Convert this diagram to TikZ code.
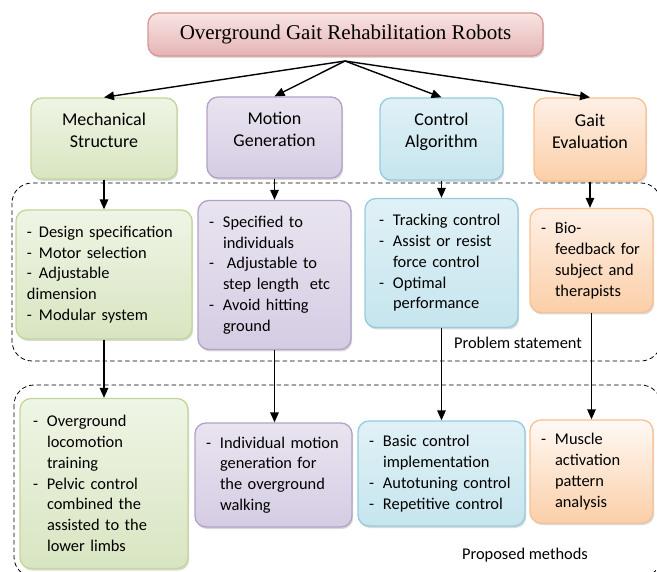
\documentclass[tikz,border=0pt]{standalone}
\usepackage{fontspec}
\setmainfont{Carlito}
\newfontfamily\titlefont{Liberation Serif}
\usetikzlibrary{arrows.meta,shadows,calc}

% box colours: top shade, bottom shade, border
\definecolor{ttlT}{HTML}{F9E4E4}
\definecolor{ttlB}{HTML}{E5B4B4}
\definecolor{ttlD}{HTML}{D99694}
\definecolor{grnT}{HTML}{EFF5E5}
\definecolor{grnB}{HTML}{D8E5C1}
\definecolor{grnD}{HTML}{C3D69B}
\definecolor{purT}{HTML}{E9E4F0}
\definecolor{purB}{HTML}{D5CCE3}
\definecolor{purD}{HTML}{B3A2C7}
\definecolor{bluT}{HTML}{E0F1F6}
\definecolor{bluB}{HTML}{C6E5EE}
\definecolor{bluD}{HTML}{93CDDD}
\definecolor{orgT}{HTML}{FEF0E6}
\definecolor{orgB}{HTML}{FBCFA8}
\definecolor{orgD}{HTML}{FAC090}

% list helpers: a dash in a fixed-width slot, and the matching indent
\newcommand\dsh[1][14pt]{\makebox[#1][l]{-}}
\newcommand\ind{\hspace*{14pt}}
% extra depth under a heading so that it sits above the middle of its box
\newcommand\lift{\rule[-17pt]{0pt}{0pt}}

\begin{document}
\begin{tikzpicture}[x=1pt,y=-1pt,
  box/.style={rounded corners=11pt, line width=1.3pt,
    drop shadow={shadow xshift=1.2pt,shadow yshift=-2pt,opacity=0.3}},
  ttl/.style={box, draw=ttlD, top color=ttlT, bottom color=ttlB},
  grn/.style={box, draw=grnD, top color=grnT, bottom color=grnB},
  pur/.style={box, draw=purD, top color=purT, bottom color=purB},
  blu/.style={box, draw=bluD, top color=bluT, bottom color=bluB},
  org/.style={box, draw=orgD, top color=orgT, bottom color=orgB},
  head/.style={font=\fontsize{18}{22}\selectfont, align=center},
  body/.style={font=\fontsize{16.4}{20.8}\selectfont, align=left, inner xsep=11pt},
  lbl/.style={font=\fontsize{16.4}{20.8}\selectfont},
  arr/.style={line width=1.4pt, -{Triangle[width=8.5pt,length=10pt]}},
  region/.style={line width=0.8pt, dash pattern=on 4.5pt off 3pt, rounded corners=20pt}
]
\useasboundingbox (0,0) rectangle (657,572);

% problem statement and proposed methods areas
\draw[region] (12,183) rectangle (661,361);
\draw[region] (14,385) rectangle (661,577);

% title
\node[ttl, minimum width=395pt, minimum height=43pt,
      font=\titlefont\fontsize{21}{24}\selectfont] (title) at (345.5,34.5)
  {Overground Gait Rehabilitation Robots};

% research areas
\node[grn, head, minimum width=146pt, minimum height=81pt] (mech) at (104,138.5)
  {Mechanical\\Structure\lift};
\node[pur, head, minimum width=135pt, minimum height=81pt] (moti) at (274.5,137.5)
  {Motion\\Generation\lift};
\node[blu, head, minimum width=123pt, minimum height=82pt] (ctrl) at (441.5,139)
  {Control\\Algorithm\lift};
\node[org, head, minimum width=112pt, minimum height=83pt] (gait) at (590,139.5)
  {Gait\\Evaluation\lift};

% problem statements
\node[grn, body, text width=154pt, minimum height=129pt] (mech2) at (104,274.5)
  {\dsh[12pt]Design specification\\
   \dsh[12pt]Motor selection\\
   \dsh[12pt]Adjustable\\
   dimension\\
   \dsh[12pt]Modular system};
\node[pur, body, text width=131pt, minimum height=149pt] (moti2) at (274.5,275)
  {\dsh Specified to\\
   \ind individuals\\
   \dsh\hspace{4pt}Adjustable to\\
   \ind step length\ \ etc\\
   \dsh Avoid hitting\\
   \ind ground};
\node[blu, body, text width=125pt, inner xsep=14pt, minimum height=129pt] (ctrl2) at (441.5,263)
  {\dsh Tracking control\\
   \dsh Assist or resist\\
   \ind force control\\
   \dsh Optimal\\
   \ind performance};
\node[org, body, text width=101pt, minimum height=104pt] (gait2) at (591.5,260.5)
  {\dsh Bio-\\
   \ind feedback for\\
   \ind subject and\\
   \ind therapists};

% proposed methods
\node[grn, body, text width=142pt, inner xsep=13pt, minimum height=170pt] (mech3) at (104,483.5)
  {\dsh Overground\\
   \ind locomotion\\
   \ind training\\
   \dsh Pelvic control\\
   \ind combined the\\
   \ind assisted to the\\
   \ind lower limbs};
\node[pur, body, text width=135pt, minimum height=104pt] (moti3) at (273.5,475)
  {\dsh Individual motion\\
   \ind generation for\\
   \ind the overground\\
   \ind walking};
\node[blu, body, text width=145pt, minimum height=105pt] (ctrl3) at (441.5,473.5)
  {\dsh Basic control\\
   \ind implementation\\
   \dsh Autotuning control\\
   \dsh Repetitive control};
\node[org, body, text width=101pt, minimum height=103pt, top color=white!60!orgT] (gait3) at (591.5,471.5)
  {\dsh Muscle\\
   \ind activation\\
   \ind pattern\\
   \ind analysis};

% area captions
\node[lbl] (ps) at (518,343) {Problem statement};
\node[lbl] (pm) at (525,555) {Proposed methods};

% connectors
\coordinate (fan) at (345,61);
\foreach \t in {mech,moti,ctrl,gait}
  \draw[arr] (fan) -- (\t.north);
\foreach \a/\b in {mech/mech2,moti/moti2,ctrl/ctrl2,gait/gait2,
                   mech2/mech3,moti2/moti3,ctrl2/ctrl3,gait2/gait3}
  \draw[arr] (\a.south) -- (\a.south |- \b.north);
\end{tikzpicture}
\end{document}
